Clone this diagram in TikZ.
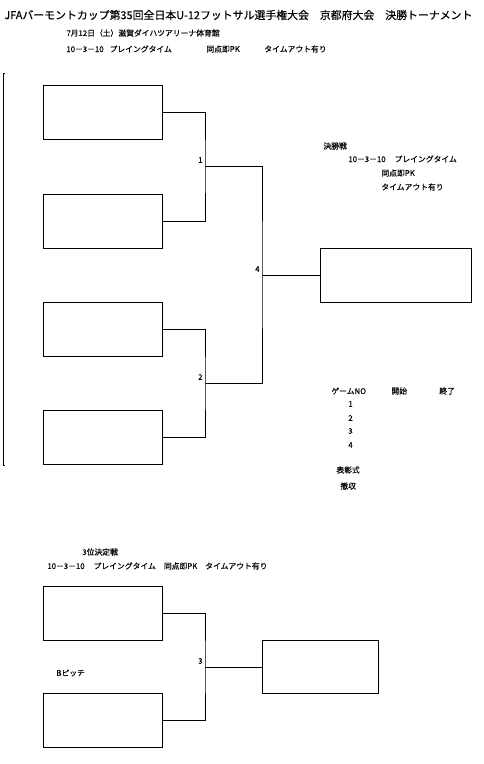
\documentclass[tikz,border=0pt]{standalone}
\usepackage{fontspec}
\setmainfont{Noto Sans CJK JP}[FakeBold=0.3]
\usetikzlibrary{positioning}

\begin{document}
\begin{tikzpicture}[x=1pt,y=-1pt,line width=0.8pt,
  team/.style={draw,minimum width=119pt,minimum height=54pt,inner sep=0pt},
  win/.style={draw,minimum width=151pt,minimum height=54pt,inner sep=0pt},
  txt/.style={anchor=west,inner sep=0pt,font=\fontsize{7.8}{9}\selectfont},
  num/.style={anchor=east,inner sep=0pt,font=\fontsize{7.8}{9}\selectfont}]
  \useasboundingbox (0,0) rectangle (484,764);
  % heading
  \node[anchor=west,inner sep=0pt,font=\fontsize{10.9}{12}\selectfont] (title) at (4,15)
    {JFAバーモントカップ第35回全日本U-12フットサル選手権大会　京都府大会　決勝トーナメント};
  \node[txt] (date) at (66,33) {7月12日（土）滋賀ダイハツアリーナ体育館};
  \node[txt] (rule) at (66,49) {10－3－10\hspace{6pt}プレイングタイム};
  \node[txt] (pk) at (206,49) {同点即PK};
  \node[txt] (tout) at (264,49) {タイムアウト有り};
  % left frame
  \coordinate (ltop) at (3,73);
  \coordinate (lbot) at (3,465);
  \draw (5,73) -- (ltop) -- (lbot) -- (5,465);
  % first round
  \node[team] (t1) at (102.5,112) {};
  \node[team] (t2) at (102.5,221) {};
  \node[team] (t3) at (102.5,329) {};
  \node[team] (t4) at (102.5,437.5) {};
  \coordinate (j1) at (205,166);
  \coordinate (j2) at (205,383);
  \coordinate (j4) at (262,275);
  \node[win] (champ) at (395.5,275) {};
  \draw (t1.east) -| (j1) |- (t2.east);
  \draw (t3.east) -| (j2) |- (t4.east);
  \draw (j1) -| (j4) |- (j2);
  \draw (j4) -- (champ.west);
  \node[num] at ([xshift=-2pt,yshift=6pt]j1) {1};
  \node[num] at ([xshift=-2pt,yshift=6pt]j2) {2};
  \node[num] at ([xshift=-2pt,yshift=6pt]j4) {4};
  % final notes
  \node[txt] (fin) at (323,146) {決勝戦};
  \node[txt] (finrule) at (348,159) {10－3－10\hspace{9pt}プレイングタイム};
  \node[txt] (finpk) at (381,173) {同点即PK};
  \node[txt] (fintout) at (381,187) {タイムアウト有り};
  % schedule
  \node[txt] (gno) at (331,391) {ゲームNO};
  \node[txt] (start) at (391,391) {開始};
  \node[txt] (end) at (439,391) {終了};
  \foreach \g/\y in {1/404,2/418,3/431,4/445}
    \node[txt] (g\g) at (348,\y) {\g};
  \node[txt] (cer) at (336,470) {表彰式};
  \node[txt] (clr) at (340,486) {撤収};
  % third place
  \node[txt] (third) at (82,552) {3位決定戦};
  \node[txt] (thirdrule) at (47,566)
    {10－3－10\hspace{9pt}プレイングタイム\hspace{8pt}同点即PK\hspace{8pt}タイムアウト有り};
  \node[team] (s1) at (102.5,613.5) {};
  \node[team] (s2) at (102.5,720) {};
  \node[txt] (pitch) at (56,673) {Bピッチ};
  \coordinate (j3) at (205,667);
  \node[draw,minimum width=116pt,minimum height=53pt,inner sep=0pt] (bronze) at (320,667) {};
  \draw (s1.east) -| (j3) |- (s2.east);
  \draw (j3) -- (bronze.west);
  \node[num] at ([xshift=-2pt,yshift=6pt]j3) {3};
\end{tikzpicture}
\end{document}
